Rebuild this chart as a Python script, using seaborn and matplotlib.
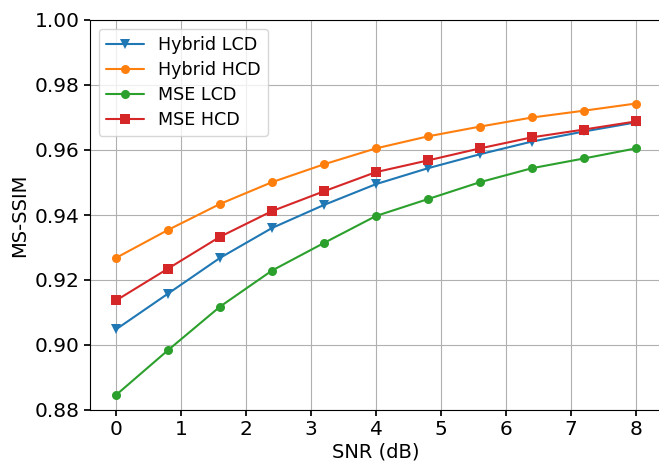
import numpy as np
import pandas as pd
import matplotlib
matplotlib.use("Agg")
import matplotlib.pyplot as plt
import seaborn as sns

snr = [0, 0.8, 1.6, 2.4, 3.2, 4.0, 4.8, 5.6, 6.4, 7.2, 8.0]
hybrid_lcd = [0.9048, 0.9158, 0.9268, 0.9360, 0.9431, 0.9495, 0.9544, 0.9587, 0.9626, 0.9657, 0.9685]
hybrid_hcd = [0.9268, 0.9354, 0.9434, 0.9501, 0.9556, 0.9605, 0.9642, 0.9672, 0.9700, 0.9721, 0.9743]
mse_lcd = [0.8846, 0.8984, 0.9118, 0.9229, 0.9314, 0.9397, 0.9449, 0.9501, 0.9544, 0.9574, 0.9605]
mse_hcd = [0.9137, 0.9235, 0.9333, 0.9412, 0.9473, 0.9532, 0.9568, 0.9605, 0.9639, 0.9663, 0.9688]

series = ["Hybrid LCD", "Hybrid HCD", "MSE LCD", "MSE HCD"]
values = [hybrid_lcd, hybrid_hcd, mse_lcd, mse_hcd]
markers = ["v", "o", "o", "s"]
colors = ["#1f77b4", "#ff7f0e", "#2ca02c", "#d62728"]

df = pd.concat([pd.DataFrame({"SNR": snr, "MS-SSIM": v, "Method": s}) for s, v in zip(series, values)])

sns.set_theme(style="ticks")
plt.rcParams['font.family'] = ['DejaVu Sans']
plt.rcParams['text.color'] = 'black'
plt.rcParams['axes.labelcolor'] = 'black'

fig, ax = plt.subplots(figsize=(6.59, 4.61), dpi=100)
fig.subplots_adjust(left=90/659, right=662/659, top=1-20/461, bottom=1-410/461)

sns.lineplot(data=df, x="SNR", y="MS-SSIM", hue="Method", style="Method",
             markers=dict(zip(series, markers)), dashes=False,
             palette=dict(zip(series, colors)), markersize=6.5, markeredgewidth=0,
             linewidth=1.5, ax=ax)

ax.set_xlim(-0.4, 8.4)
ax.set_ylim(0.88, 1.00)
ax.set_xticks(range(0, 9))
ax.set_yticks([0.88, 0.90, 0.92, 0.94, 0.96, 0.98, 1.00])
ax.set_yticklabels([f"{v:.2f}" for v in [0.88, 0.90, 0.92, 0.94, 0.96, 0.98, 1.00]])
ax.tick_params(labelsize=14.5, colors="black", length=4)
ax.set_xlabel("SNR (dB)", fontsize=14, labelpad=2)
ax.set_ylabel("MS-SSIM", fontsize=14)
ax.grid(True, color="#b0b0b0", linewidth=0.8)
for sp in ax.spines.values():
    sp.set_visible(True)
    sp.set_color("black")
    sp.set_linewidth(0.8)
    sp.set_zorder(5)

leg = ax.legend(loc="upper left", fontsize=12.6, frameon=True, title=None,
                labelspacing=0.4, handlelength=2.2)
leg.get_frame().set_edgecolor("#cccccc")

fig.savefig("out.png", dpi=100)
